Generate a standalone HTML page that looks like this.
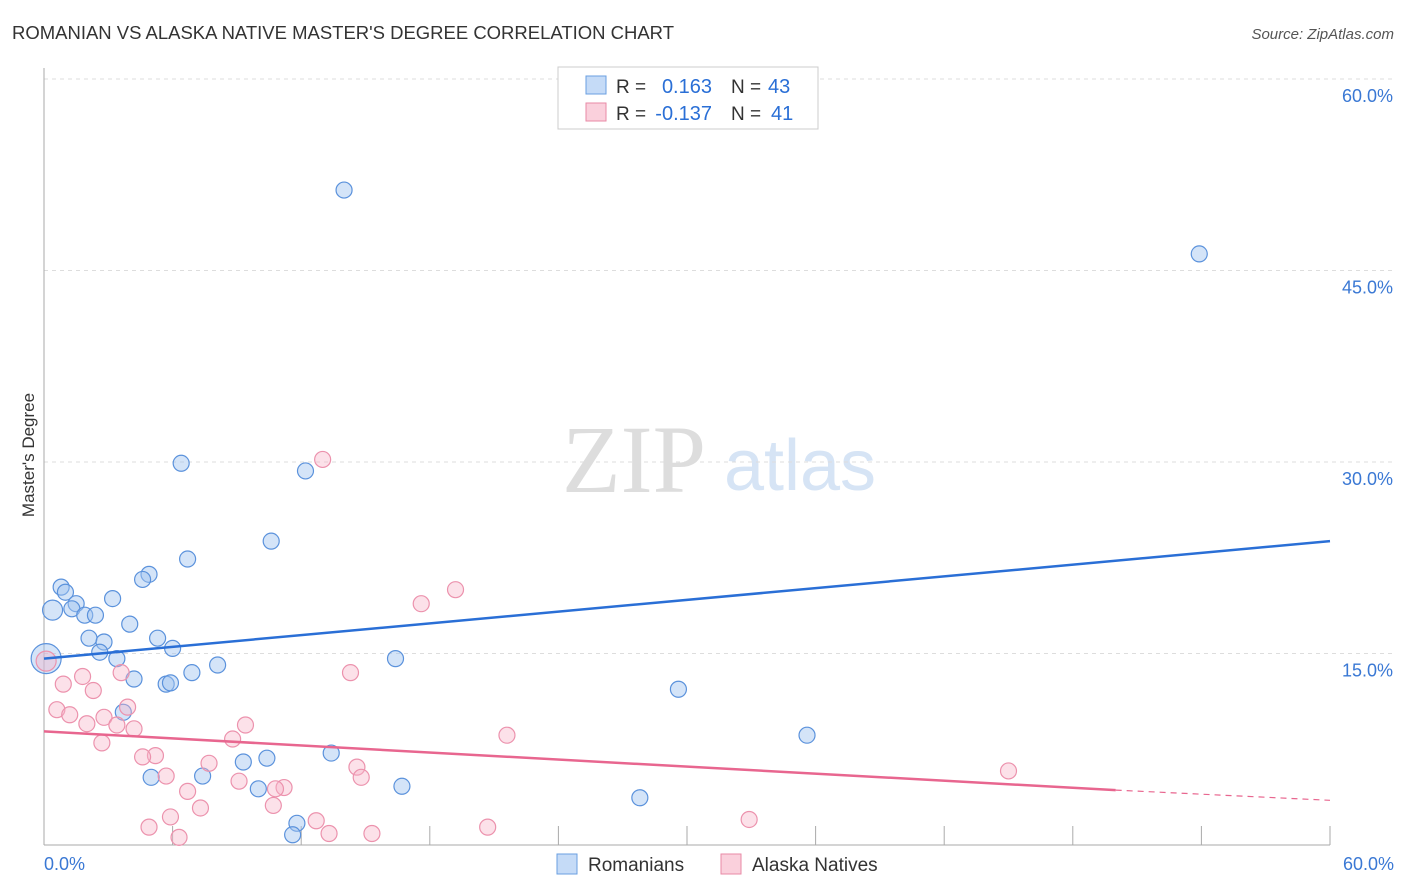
<!DOCTYPE html>
<html><head><meta charset="utf-8"><style>
body{margin:0;background:#fff;font-family:"Liberation Sans",sans-serif}
svg{display:block}
</style></head><body>
<svg id="chart" width="1406" height="892">
<text x="12" y="39" font-size="18.5" fill="#333" textLength="662">ROMANIAN VS ALASKA NATIVE MASTER'S DEGREE CORRELATION CHART</text>
<text x="1394" y="39" font-size="15" fill="#555" font-style="italic" text-anchor="end">Source: ZipAtlas.com</text>
<text x="634" y="492" font-size="96" fill="#ddd" font-family="Liberation Serif" text-anchor="middle">ZIP</text>
<text x="800" y="490" font-size="72" fill="#d6e4f5" text-anchor="middle">atlas</text>
<g id="grid"></g>
<g id="marks"></g>
<text transform="translate(34,455) rotate(-90)" font-size="17" fill="#333" text-anchor="middle">Master's Degree</text>
<g>
<rect x="558" y="67" width="260" height="62" fill="#fff" stroke="#ccc"/>
<rect x="586" y="76" width="20" height="18" fill="#c5dbf7" stroke="#6a9fe0"/>
<text x="616" y="93" font-size="19" fill="#333">R =</text>
<text x="712" y="93" font-size="20" fill="#2a6fd6" text-anchor="end">0.163</text>
<text x="731" y="93" font-size="19" fill="#333">N =</text>
<text x="768" y="93" font-size="20" fill="#2a6fd6">43</text>
<rect x="586" y="103" width="20" height="18" fill="#fad0dc" stroke="#e88aa6"/>
<text x="616" y="120" font-size="19" fill="#333">R =</text>
<text x="712" y="120" font-size="20" fill="#2a6fd6" text-anchor="end">-0.137</text>
<text x="731" y="120" font-size="19" fill="#333">N =</text>
<text x="771" y="120" font-size="20" fill="#2a6fd6">41</text>
</g>
<g>
<rect x="557" y="854" width="20" height="20" fill="#c5dbf7" stroke="#6a9fe0"/>
<text x="588" y="871" font-size="19" fill="#333">Romanians</text>
<rect x="721" y="854" width="20" height="20" fill="#fad0dc" stroke="#e88aa6"/>
<text x="752" y="871" font-size="19" fill="#333">Alaska Natives</text>
</g>
</svg>
<script>
const blueX=[14.0,53.9,6.4,12.2,10.6,6.7,4.9,4.6,0.8,1.0,1.5,0.4,1.3,1.9,2.4,3.2,4.0,2.1,2.8,5.3,6.0,2.6,3.4,0.1,8.1,6.9,16.4,4.2,5.7,5.9,29.6,3.7,13.4,10.4,9.3,7.4,5.0,10.0,16.7,27.8,35.6,11.8,11.6];
const blueY=[51.3,46.3,29.9,29.3,23.8,22.4,21.2,20.8,20.2,19.8,18.9,18.4,18.5,18.0,18.0,19.3,17.3,16.2,15.9,16.2,15.4,15.1,14.6,14.6,14.1,13.5,14.6,13.0,12.6,12.7,12.2,10.4,7.2,6.8,6.5,5.4,5.3,4.4,4.6,3.7,8.6,1.7,0.8];
const blueR=[8,8,8,8,8,8,8,8,8,8,8,10,8,8,8,8,8,8,8,8,8,8,8,15,8,8,8,8,8,8,8,8,8,8,8,8,8,8,8,8,8,8,8];
const pinkX=[13.0,19.2,17.6,0.1,14.3,1.8,0.9,2.3,3.6,3.9,0.6,1.2,2.8,3.4,4.2,2.0,2.7,9.4,8.8,5.2,4.6,21.6,14.6,14.8,5.7,7.7,9.1,11.2,10.8,6.7,7.3,10.7,5.9,4.9,12.7,6.3,13.3,15.3,20.7,32.9,45.0];
const pinkY=[30.2,20.0,18.9,14.4,13.5,13.2,12.6,12.1,13.5,10.8,10.6,10.2,10.0,9.4,9.1,9.5,8.0,9.4,8.3,7.0,6.9,8.6,6.1,5.3,5.4,6.4,5.0,4.5,4.4,4.2,2.9,3.1,2.2,1.4,1.9,0.6,0.9,0.9,1.4,2.0,5.8];
const xTicks=[0,10,20,30,40,50,60];
const yTicks=[15,30,45,60];
const blueTrend=[[0,14.6],[60,23.8]];
const pinkTrend=[[0,8.9],[50,4.3],[60,3.5]];
const X=v=>44+v/60*1286, Y=v=>845-v/15*191.5;
const ns="http://www.w3.org/2000/svg";
function mk(t,a,p){const e=document.createElementNS(ns,t);for(const k in a)e.setAttribute(k,a[k]);p.appendChild(e);return e;}
const grid=document.getElementById('grid'),marks=document.getElementById('marks');
yTicks.forEach(t=>{
 const l=mk('line',{x1:44,x2:1394,y1:Y(t),y2:Y(t),stroke:'#ddd','stroke-dasharray':'4,4'},grid);
 
 
 const tx=mk('text',{x:1393,y:Y(t)+23,'font-size':18,fill:'#3a78d4','text-anchor':'end'},grid);
 tx.textContent=t.toFixed(1)+'%';
 
 
});
mk('line',{x1:44,x2:44,y1:68,y2:845,stroke:'#aaa'},grid);
mk('line',{x1:44,x2:1330,y1:845,y2:845,stroke:'#aaa'},grid);
for(let i=1;i<=10;i++){const v=i*6;const t=mk('line',{x1:X(v),x2:X(v),y1:826,y2:845,stroke:'#aaa'},grid);
 
 }
[[0,'start',44],[60,'end',1394]].forEach(([v,a,x])=>{const tx=mk('text',{x:x,y:870,'font-size':18,fill:'#3a78d4','text-anchor':a},grid);tx.textContent=v.toFixed(1)+'%';
 
 });
blueX.forEach((v,i)=>{const c=mk('circle',{cx:X(v),cy:Y(blueY[i]),r:blueR[i],fill:'rgba(160,195,240,0.45)',stroke:'#5b92dc','stroke-width':1.2},marks);
 
 });
pinkX.forEach((v,i)=>{const c=mk('circle',{cx:X(v),cy:Y(pinkY[i]),r:i==3?10:8,fill:'rgba(248,180,200,0.4)',stroke:'#ec92ad','stroke-width':1.2},marks);
 
 });
const bl=mk('line',{x1:X(blueTrend[0][0]),y1:Y(blueTrend[0][1]),x2:X(blueTrend[1][0]),y2:Y(blueTrend[1][1]),stroke:'#2a6fd6','stroke-width':2.5},marks);


const pl=mk('line',{x1:X(pinkTrend[0][0]),y1:Y(pinkTrend[0][1]),x2:X(pinkTrend[1][0]),y2:Y(pinkTrend[1][1]),stroke:'#e8668f','stroke-width':2.5},marks);


const pd=mk('line',{x1:X(pinkTrend[1][0]),y1:Y(pinkTrend[1][1]),x2:X(pinkTrend[2][0]),y2:Y(pinkTrend[2][1]),stroke:'#e8668f','stroke-width':1.2,'stroke-dasharray':'6,5'},marks);


</script>
</body></html>
